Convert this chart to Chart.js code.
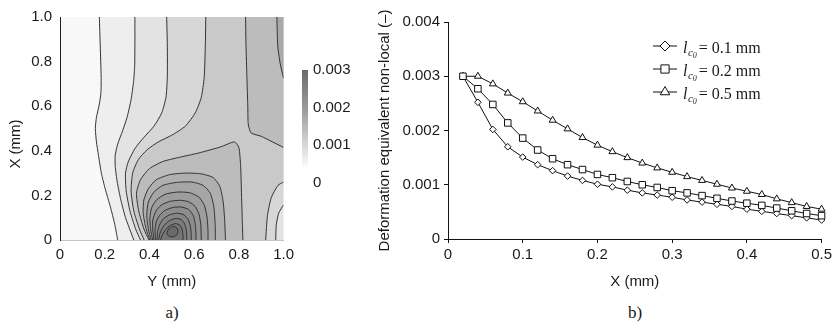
<!DOCTYPE html>
<html lang="en">

<head>
    <meta charset="UTF-8">
    <title>Non-local equivalent strain</title>
    <style>
        body {
            margin: 0;
            background: #ffffff;
            width: 835px;
            height: 327px;
            position: relative;
            overflow: hidden;
        }

        canvas {
            position: absolute;
            top: 0;
        }

        #contourChart { left: 0; }
        #scaleChart { left: 290px; }
        #curveChart { left: 360px; }

        .tag {
            position: absolute;
            top: 303px;
            width: 40px;
            text-align: center;
            font-family: "Liberation Serif", "Times New Roman", serif;
            font-size: 17px;
            line-height: 20px;
            color: #1a1a1a;
        }
    </style>
</head>

<body>
    <canvas id="contourChart" width="300" height="300"></canvas>
    <canvas id="scaleChart" width="70" height="300"></canvas>
    <canvas id="curveChart" width="475" height="300"></canvas>
    <div class="tag" style="left:152px">a)</div>
    <div class="tag" style="left:615px">b)</div>

    <script src="https://cdn.jsdelivr.net/npm/chart.js"></script>

    <script>
        // ---- a) iso-lines of the non-local strain over the plate, points are [Y, X] in mm ----
        const isoA = [[0.176, 1.0], [0.18, 0.87], [0.184, 0.73], [0.183, 0.66], [0.176, 0.61], [0.163, 0.55], [0.158, 0.5], [0.163, 0.44], [0.172, 0.38], [0.185, 0.3], [0.202, 0.23], [0.225, 0.15], [0.245, 0.07], [0.258, 0]];
        const isoB = [[0.335, 1.0], [0.335, 0.87], [0.334, 0.78], [0.329, 0.71], [0.318, 0.63], [0.3, 0.55], [0.28, 0.49], [0.258, 0.43], [0.247, 0.38], [0.247, 0.33], [0.256, 0.26], [0.272, 0.18], [0.293, 0.1], [0.315, 0.04], [0.33, 0]];
        const isoC = [[0.477, 1.0], [0.48, 0.875], [0.48, 0.73], [0.474, 0.64], [0.455, 0.57], [0.42, 0.51], [0.375, 0.46], [0.335, 0.41], [0.305, 0.35], [0.293, 0.3], [0.296, 0.22], [0.313, 0.13], [0.338, 0.05], [0.36, 0]];
        const isoD = [[0.652, 1.0], [0.65, 0.875], [0.645, 0.73], [0.632, 0.64], [0.605, 0.57], [0.56, 0.51], [0.5, 0.47], [0.44, 0.44], [0.39, 0.405], [0.35, 0.36], [0.325, 0.3], [0.318, 0.22], [0.33, 0.13], [0.355, 0.05], [0.376, 0]];
        const isoE = [[0.83, 1.0], [0.832, 0.87], [0.836, 0.73], [0.84, 0.6], [0.842, 0.52], [0.855, 0.48], [0.9, 0.465], [0.95, 0.44], [1.0, 0.415]];
        const isoF = [[0.97, 1.0], [0.974, 0.87], [0.985, 0.79], [1.0, 0.725]];
        const isoG = [[0.398, 0], [0.375, 0.05], [0.352, 0.13], [0.342, 0.21], [0.36, 0.27], [0.4, 0.32], [0.46, 0.352], [0.53, 0.37], [0.62, 0.39], [0.72, 0.418], [0.78, 0.44], [0.8, 0.415], [0.808, 0.33], [0.812, 0.2], [0.815, 0.1], [0.818, 0]];
        const isoH = [[1.0, 0.26], [0.975, 0.245], [0.945, 0.19], [0.928, 0.11], [0.92, 0]];
        const isoI = [[1.0, 0.158], [0.978, 0.12], [0.967, 0.065], [0.965, 0]];

        // closed rings round the strain peak near Y = 0.5 mm
        const ring1 = [[0.402, 0], [0.385, 0.05], [0.372, 0.12], [0.375, 0.18], [0.395, 0.23], [0.43, 0.27], [0.49, 0.293], [0.56, 0.3], [0.63, 0.297], [0.685, 0.28], [0.715, 0.24], [0.73, 0.17], [0.737, 0.08], [0.74, 0]];
        const ring2 = [[0.408, 0], [0.395, 0.05], [0.388, 0.11], [0.395, 0.17], [0.42, 0.215], [0.46, 0.245], [0.52, 0.258], [0.59, 0.26], [0.64, 0.245], [0.672, 0.21], [0.688, 0.15], [0.694, 0.07], [0.695, 0]];
        const ring3 = [[0.414, 0], [0.405, 0.05], [0.402, 0.1], [0.41, 0.145], [0.432, 0.18], [0.47, 0.205], [0.525, 0.215], [0.58, 0.212], [0.622, 0.192], [0.646, 0.155], [0.658, 0.1], [0.662, 0.04], [0.662, 0]];
        const ring4 = [[0.42, 0], [0.415, 0.045], [0.415, 0.09], [0.428, 0.128], [0.452, 0.156], [0.49, 0.173], [0.535, 0.178], [0.575, 0.172], [0.605, 0.15], [0.622, 0.115], [0.63, 0.065], [0.632, 0]];
        const ring5 = [[0.427, 0], [0.425, 0.04], [0.43, 0.08], [0.445, 0.11], [0.47, 0.133], [0.505, 0.146], [0.543, 0.148], [0.575, 0.137], [0.596, 0.11], [0.605, 0.07], [0.608, 0.03], [0.608, 0]];
        const ring6 = [[0.434, 0], [0.436, 0.035], [0.445, 0.068], [0.462, 0.094], [0.488, 0.112], [0.52, 0.12], [0.55, 0.115], [0.572, 0.095], [0.583, 0.062], [0.587, 0.025], [0.587, 0]];
        const ring7 = [[0.441, 0], [0.447, 0.03], [0.46, 0.058], [0.48, 0.08], [0.507, 0.094], [0.532, 0.096], [0.552, 0.082], [0.563, 0.055], [0.567, 0.022], [0.567, 0]];
        const ring8 = [[0.45, 0], [0.458, 0.025], [0.473, 0.048], [0.494, 0.066], [0.518, 0.074], [0.537, 0.066], [0.547, 0.045], [0.55, 0.018], [0.55, 0]];
        const core = [[0.478, 0.03], [0.486, 0.05], [0.503, 0.061], [0.52, 0.057], [0.528, 0.04], [0.522, 0.022], [0.505, 0.014], [0.487, 0.017], [0.478, 0.03]];

        // colour scale of the map
        const strainRange = [0, 0.003];

        // ---- b) profiles along X for three characteristic lengths ----
        const lengthScales = ['0.1', '0.2', '0.5'];
        const sampleX = [0.02, 0.04, 0.06, 0.08, 0.10, 0.12, 0.14, 0.16, 0.18, 0.20, 0.22, 0.24, 0.26, 0.28, 0.30, 0.32, 0.34, 0.36, 0.38, 0.40, 0.42, 0.44, 0.46, 0.48, 0.50];
        const strainL01 = [0.00300, 0.00252, 0.00202, 0.00170, 0.00151, 0.00137, 0.00126, 0.00116, 0.00108, 0.00101, 0.00096, 0.00090, 0.00085, 0.00081, 0.00077, 0.00072, 0.00068, 0.00064, 0.00060, 0.00055, 0.00051, 0.00047, 0.00043, 0.00039, 0.00035];
        const strainL02 = [0.00300, 0.00277, 0.00248, 0.00214, 0.00186, 0.00164, 0.00148, 0.00137, 0.00128, 0.00119, 0.00113, 0.00106, 0.00100, 0.00095, 0.00089, 0.00085, 0.00080, 0.00075, 0.00070, 0.00066, 0.00062, 0.00057, 0.00052, 0.00047, 0.00043];
        const strainL05 = [0.00300, 0.00300, 0.00286, 0.00269, 0.00253, 0.00236, 0.00219, 0.00203, 0.00187, 0.00173, 0.00161, 0.00150, 0.00140, 0.00131, 0.00123, 0.00115, 0.00108, 0.00101, 0.00094, 0.00088, 0.00082, 0.00074, 0.00067, 0.00060, 0.00055];

        const ink = '#1a1a1a';
        const sans = { family: '"Liberation Sans", Arial, sans-serif', size: 15 };
        const serif = '"Liberation Serif", "Times New Roman", serif';

        function oneDecimal(v) { return v === 0 ? '0' : v.toFixed(1); }
        function threeDecimals(v) { return v === 0 ? '0' : v.toFixed(3); }

        // ---------------- contour map ----------------

        // superlevel regions, lowest level first; each polygon is an iso-line closed along the plate edge
        var bands = [
            { points: isoA.concat([[1, 0], [1, 1]]), color: '#eeeeee' },
            { points: isoB.concat([[1, 0], [1, 1]]), color: '#e3e3e3' },
            { points: isoC.concat(isoI.slice().reverse(), [[1, 1]]), color: '#d7d7d7' },
            { points: isoD.concat(isoH.slice().reverse(), [[1, 1]]), color: '#c9c9c9' },
            { points: isoE.concat([[1, 1]]), color: '#bcbcbc' },
            { points: isoG, color: '#bcbcbc' },
            { points: isoF.concat([[1, 1]]), color: '#aaaaaa' },
            { points: ring1, color: '#afafaf' },
            { points: ring2, color: '#a6a6a6' },
            { points: ring3, color: '#9d9d9d' },
            { points: ring4, color: '#959595' },
            { points: ring5, color: '#8d8d8d' },
            { points: ring6, color: '#858585' },
            { points: ring7, color: '#7d7d7d' },
            { points: ring8, color: '#757575' },
            { points: core, color: '#6a6a6a' }
        ];
        var isolines = [isoA, isoB, isoC, isoD, isoE, isoF, isoG, isoH, isoI, ring1, ring2, ring3, ring4, ring5, ring6, ring7, ring8, core];

        var contourSets = [];
        bands.forEach(function (band, i) {
            contourSets.push({
                data: band.points,
                showLine: true,
                fill: 'shape',
                backgroundColor: band.color,
                borderColor: 'transparent',
                borderWidth: 0,
                pointRadius: 0,
                tension: 0,
                order: 100 - i
            });
        });
        isolines.forEach(function (line) {
            contourSets.push({
                data: line,
                showLine: true,
                fill: false,
                borderColor: '#333333',
                borderWidth: 1,
                pointRadius: 0,
                tension: 0.2,
                order: 0
            });
        });

        // the lowest level fills the whole plate
        const plateBackground = {
            id: 'plateBackground',
            beforeDatasetsDraw(chart) {
                const a = chart.chartArea;
                chart.ctx.save();
                chart.ctx.fillStyle = '#f8f8f8';
                chart.ctx.fillRect(a.left, a.top, a.right - a.left, a.bottom - a.top);
                chart.ctx.restore();
            }
        };

        // vertical axis name, sitting a little below the middle of the axis
        const plateAxisName = {
            id: 'plateAxisName',
            afterDraw(chart) {
                const ctx = chart.ctx;
                ctx.save();
                ctx.translate(16, chart.chartArea.top + 127);
                ctx.rotate(-Math.PI / 2);
                ctx.textAlign = 'center';
                ctx.textBaseline = 'middle';
                ctx.fillStyle = ink;
                ctx.font = sans.size + 'px ' + sans.family;
                ctx.fillText('X (mm)', 0, 0);
                ctx.restore();
            }
        };

        new Chart(document.getElementById('contourChart'), {
            type: 'scatter',
            data: { datasets: contourSets },
            plugins: [plateBackground, plateAxisName],
            options: {
                responsive: false,
                animation: false,
                events: [],
                layout: { padding: { top: 15, right: 15, bottom: 0, left: 0 } },
                plugins: { legend: { display: false }, tooltip: { enabled: false } },
                scales: {
                    x: {
                        type: 'linear', min: 0, max: 1,
                        afterFit: function (s) { s.height = 60; },
                        grid: { display: false, drawTicks: false },
                        border: { color: '#c4c4c4', z: 1 },
                        ticks: { stepSize: 0.2, padding: 6, color: ink, font: sans, callback: oneDecimal },
                        title: { display: true, text: 'Y (mm)', color: ink, font: sans, padding: { top: 0, bottom: 9 } }
                    },
                    y: {
                        type: 'linear', min: 0, max: 1,
                        afterFit: function (s) { s.width = 60; },
                        grid: { display: false, drawTicks: false },
                        border: { color: '#222222', z: 1 },
                        ticks: { stepSize: 0.2, padding: 8, color: ink, font: sans, callback: oneDecimal }
                    }
                }
            }
        });

        // ---------------- colour bar ----------------

        new Chart(document.getElementById('scaleChart'), {
            type: 'bar',
            data: {
                labels: [''],
                datasets: [{
                    data: [strainRange],
                    barPercentage: 1,
                    categoryPercentage: 1,
                    borderWidth: 0,
                    backgroundColor: function (c) {
                        const area = c.chart.chartArea;
                        if (!area) return '#999999';
                        const g = c.chart.ctx.createLinearGradient(0, area.top, 0, area.bottom);
                        g.addColorStop(0, '#6a6a6a');
                        g.addColorStop(0.35, '#9c9c9c');
                        g.addColorStop(0.7, '#dedede');
                        g.addColorStop(0.88, '#ffffff');
                        return g;
                    }
                }]
            },
            options: {
                responsive: false,
                animation: false,
                events: [],
                layout: { padding: { top: 70, right: 0, bottom: 117, left: 12 } },
                plugins: { legend: { display: false }, tooltip: { enabled: false } },
                scales: {
                    x: { display: false },
                    y: {
                        position: 'right',
                        min: strainRange[0], max: strainRange[1],
                        afterFit: function (s) { s.width = 52; },
                        grid: { display: false, drawTicks: false },
                        border: { display: false },
                        ticks: { stepSize: 0.001, padding: 5, color: ink, font: sans, callback: threeDecimals }
                    }
                }
            }
        });

        // ---------------- profiles ----------------

        function profile(values, pointStyle, radius, legendRadius, order) {
            return {
                data: sampleX.map(function (x, i) { return { x: x, y: values[i] }; }),
                showLine: true,
                borderColor: '#111111',
                borderWidth: 1,
                pointStyle: pointStyle,
                pointRadius: radius,
                pointBackgroundColor: '#ffffff',
                pointBorderColor: '#111111',
                pointBorderWidth: 1,
                legendRadius: legendRadius,
                clip: false,
                order: order
            };
        }

        // legend with the subscripted characteristic length
        const lengthLegend = {
            id: 'lengthLegend',
            afterDraw(chart) {
                const ctx = chart.ctx;
                const area = chart.chartArea;
                const x0 = area.left + 205;
                chart.data.datasets.forEach(function (ds, i) {
                    const y = area.top + 24 + i * 23;
                    ctx.save();
                    ctx.strokeStyle = '#111111';
                    ctx.lineWidth = 1;
                    ctx.beginPath();
                    ctx.moveTo(x0, y);
                    ctx.lineTo(x0 + 24, y);
                    ctx.stroke();
                    ctx.fillStyle = '#ffffff';
                    Chart.helpers.drawPoint(ctx, { pointStyle: ds.pointStyle, radius: ds.legendRadius, borderWidth: 1, rotation: 0 }, x0 + 12, y);

                    let x = x0 + 30;
                    const base = y + 7;
                    ctx.fillStyle = ink;
                    ctx.textBaseline = 'alphabetic';
                    ctx.font = 'italic 16px ' + serif;
                    ctx.fillText('l', x, base);
                    x += ctx.measureText('l').width + 0.5;
                    ctx.font = 'italic 11px ' + serif;
                    ctx.fillText('c', x, base + 3);
                    x += ctx.measureText('c').width;
                    ctx.font = 'italic 8px ' + serif;
                    ctx.fillText('0', x, base + 5);
                    x += ctx.measureText('0').width + 2;
                    ctx.font = '16px ' + serif;
                    ctx.fillText('= ' + lengthScales[i] + ' mm', x, base);
                    ctx.restore();
                });
            }
        };

        new Chart(document.getElementById('curveChart'), {
            type: 'scatter',
            data: {
                datasets: [
                    profile(strainL01, 'rectRot', 3.3, 5, 2),
                    profile(strainL02, 'rect', 4.6, 5.8, 1),
                    profile(strainL05, 'triangle', 4, 5.5, 3)
                ]
            },
            plugins: [lengthLegend],
            options: {
                responsive: false,
                animation: false,
                events: [],
                layout: { padding: { top: 22, right: 13, bottom: 0, left: 0 } },
                plugins: { legend: { display: false }, tooltip: { enabled: false } },
                scales: {
                    x: {
                        type: 'linear', min: 0, max: 0.5,
                        afterFit: function (s) { s.height = 61; },
                        grid: { drawOnChartArea: false, drawTicks: true, tickLength: 4, color: '#111111' },
                        border: { color: '#111111' },
                        ticks: { stepSize: 0.1, padding: 3, color: ink, font: sans, callback: oneDecimal },
                        title: { display: true, text: 'X (mm)', color: ink, font: sans, padding: { top: 0, bottom: 9 } }
                    },
                    y: {
                        type: 'linear', min: 0, max: 0.004,
                        afterFit: function (s) { s.width = 88; },
                        grid: { drawOnChartArea: false, drawTicks: true, tickLength: 4, color: '#111111' },
                        border: { color: '#111111' },
                        ticks: { stepSize: 0.001, padding: 4, color: ink, font: sans, callback: threeDecimals },
                        title: { display: true, text: 'Deformation equivalent non-local (–)', color: ink, font: sans, padding: { top: 16, bottom: 0 } }
                    }
                }
            }
        });
    </script>
</body>

</html>
